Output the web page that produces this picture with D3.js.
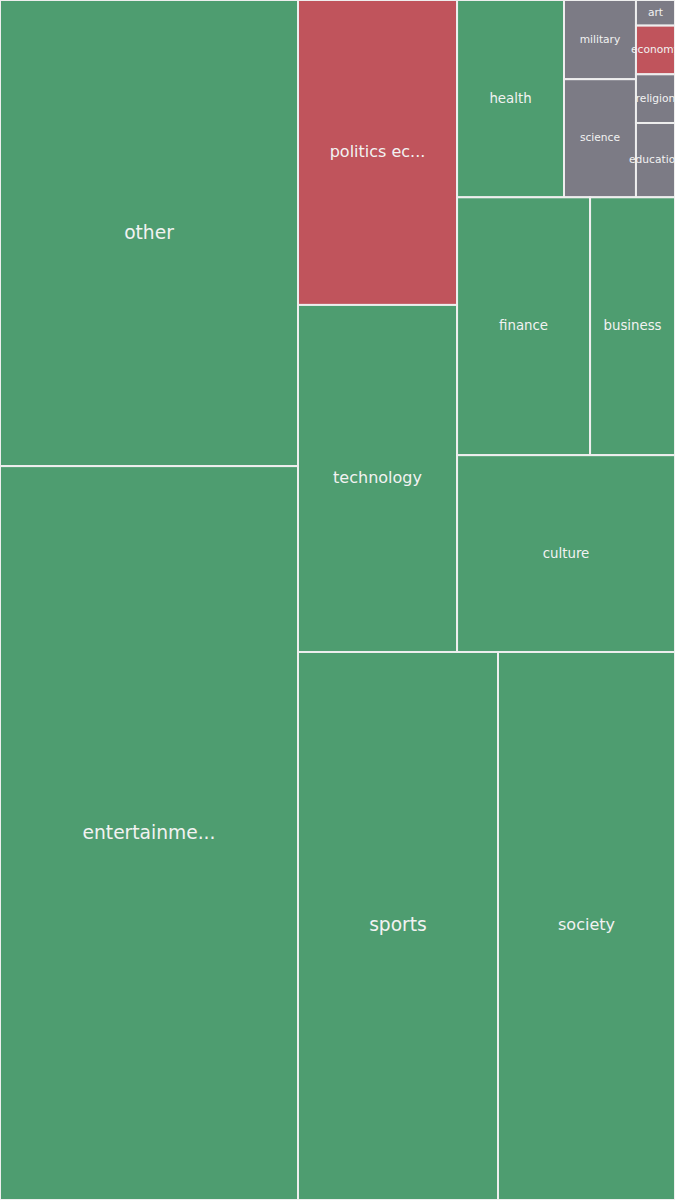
<!DOCTYPE html>
<html>
<head>
<meta charset="utf-8">
<script src="https://cdn.jsdelivr.net/npm/d3@7"></script>
<style>
  body { margin: 0; background: #fff; }
  svg { display: block; }
  text { font-family: "DejaVu Sans", sans-serif; }
</style>
</head>
<body>
<div class="chart"></div>
<script>
// topic counts
const names = ["other", "entertainment", "politics economy", "technology", "health",
  "military", "science", "art", "economy", "religion", "education",
  "finance", "business", "culture", "sports", "society"];
const values = [1389, 2187, 485, 552, 211, 57, 85, 10, 19, 19, 29, 343, 219, 429, 1096, 970];
const tone = ["pos", "pos", "neg", "pos", "pos", "neu", "neu", "neu", "neg", "neu", "neu",
  "pos", "pos", "pos", "pos", "pos"];
// which block each topic sits in
const groupOf = ["A", "A", "P", "P", "C1", "MS", "MS", "AERE", "AERE", "AERE", "AERE",
  "C2", "C2", "C", "B2", "B2"];
const groupIds = ["root", "A", "B", "B1", "B2", "P", "C", "C1", "C2", "MS", "AERE"];
const groupParents = ["", "root", "root", "B", "B", "B1", "B1", "C", "C", "C1", "C1"];

const width = 675;
const height = 1200;

const rows = groupIds.map((id, i) => ({id: id, parent: groupParents[i] || null}))
  .concat(names.map((n, i) => ({id: "t" + i, parent: groupOf[i], name: n, value: values[i], tone: tone[i], i: i})));

const root = d3.stratify()
    .id(d => d.id)
    .parentId(d => d.parent)(rows)
    .sum(d => d.value || 0)
    .sort((a, b) => d3.min(a.leaves(), l => l.data.i) - d3.min(b.leaves(), l => l.data.i));

d3.treemap()
    .size([width, height])
    .tile(d3.treemapSliceDice)(root);

const color = d3.scaleOrdinal()
    .domain(["pos", "neg", "neu"])
    .range(["#4e9d70", "#c0545c", "#7c7b85"]);

const fontSize = d3.scaleThreshold()
    .domain([120, 215, 320])
    .range([10.67, 13.33, 16, 18.67]);

const svg = d3.select('.chart')
    .append('svg')
    .attr('width', width)
    .attr('height', height);

const cell = svg.selectAll('g')
    .data(root.leaves())
    .enter()
    .append('g')
    .attr('transform', d => `translate(${d.x0},${d.y0})`);

cell.append('rect')
    .attr('width', d => d.x1 - d.x0)
    .attr('height', d => d.y1 - d.y0)
    .attr('fill', d => color(d.data.tone))
    .attr('stroke', '#eeeeee')
    .attr('stroke-width', 2);

cell.append('text')
    .attr('x', d => (d.x1 - d.x0) / 2)
    .attr('y', d => (d.y1 - d.y0) / 2)
    .attr('text-anchor', 'middle')
    .attr('dominant-baseline', 'middle')
    .attr('fill', '#f2f2f2')
    .attr('font-size', d => fontSize(Math.sqrt((d.x1 - d.x0) * (d.y1 - d.y0))) + 'px')
    .text(d => d.data.name.length > 12 ? d.data.name.slice(0, 11) + '...' : d.data.name);
</script>
</body>
</html>
